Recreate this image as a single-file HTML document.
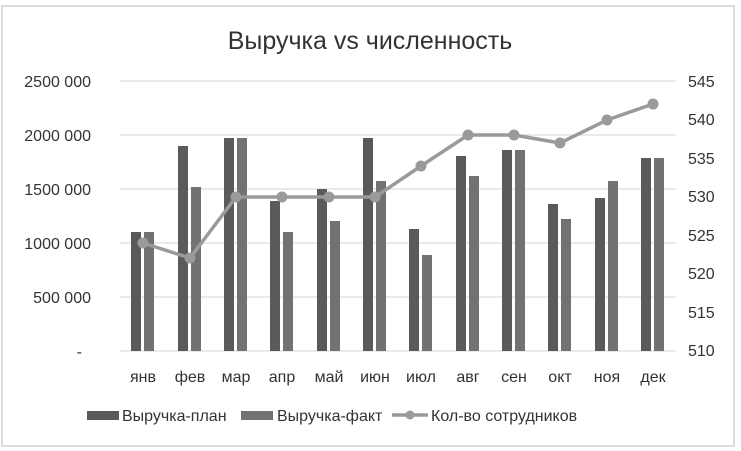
<!DOCTYPE html>
<html><head><meta charset="utf-8"><style>
html,body{margin:0;padding:0;background:#fff;}
svg{display:block;font-family:"Liberation Sans","DejaVu Sans",sans-serif;}
</style></head><body>
<svg width="741" height="451" viewBox="0 0 741 451" xmlns="http://www.w3.org/2000/svg">
<rect x="0" y="0" width="741" height="451" fill="#fff"/>
<rect x="2" y="6" width="732" height="440" fill="none" stroke="#d0d0d0" stroke-width="1.5"/>
<text x="370" y="49" text-anchor="middle" font-size="25" fill="#333">Выручка vs численность</text>
<g stroke="#d4d4d4" stroke-width="1">
<line x1="120" y1="81" x2="676" y2="81"/><line x1="120" y1="135" x2="676" y2="135"/>
<line x1="120" y1="189" x2="676" y2="189"/><line x1="120" y1="243" x2="676" y2="243"/>
<line x1="120" y1="297" x2="676" y2="297"/><line x1="120" y1="351" x2="676" y2="351"/>
</g>
<g font-size="16" fill="#333" text-anchor="end">
<text x="91" y="87">2500 000</text><text x="91" y="141">2000 000</text>
<text x="91" y="195">1500 000</text><text x="91" y="249">1000 000</text>
<text x="91" y="303">500 000</text><text x="82" y="357">-</text>
</g>
<g font-size="16" fill="#333">
<text x="688" y="87">545</text><text x="688" y="125">540</text><text x="688" y="164">535</text>
<text x="688" y="202">530</text><text x="688" y="241">525</text><text x="688" y="279">520</text>
<text x="688" y="318">515</text><text x="688" y="356">510</text>
</g>
<g font-size="16" fill="#333" text-anchor="middle">
<text x="143" y="382">янв</text><text x="190" y="382">фев</text><text x="236" y="382">мар</text>
<text x="282" y="382">апр</text><text x="329" y="382">май</text><text x="375" y="382">июн</text>
<text x="421" y="382">июл</text><text x="468" y="382">авг</text><text x="514" y="382">сен</text>
<text x="560" y="382">окт</text><text x="607" y="382">ноя</text><text x="653" y="382">дек</text>
</g>
<g fill="#5a5a5a">
<rect x="131" y="232" width="10" height="119"/><rect x="178" y="146" width="10" height="205"/>
<rect x="224" y="138" width="10" height="213"/><rect x="270" y="201" width="10" height="150"/>
<rect x="317" y="189" width="10" height="162"/><rect x="363" y="138" width="10" height="213"/>
<rect x="409" y="229" width="10" height="122"/><rect x="456" y="156" width="10" height="195"/>
<rect x="502" y="150" width="10" height="201"/><rect x="548" y="204" width="10" height="147"/>
<rect x="595" y="198" width="10" height="153"/><rect x="641" y="158" width="10" height="193"/>
</g>
<g fill="#727272">
<rect x="144" y="232" width="10" height="119"/><rect x="191" y="187" width="10" height="164"/>
<rect x="237" y="138" width="10" height="213"/><rect x="283" y="232" width="10" height="119"/>
<rect x="330" y="221" width="10" height="130"/><rect x="376" y="181" width="10" height="170"/>
<rect x="422" y="255" width="10" height="96"/><rect x="469" y="176" width="10" height="175"/>
<rect x="515" y="150" width="10" height="201"/><rect x="561" y="219" width="10" height="132"/>
<rect x="608" y="181" width="10" height="170"/><rect x="654" y="158" width="10" height="193"/>
</g>
<polyline fill="none" stroke="#9a9a9a" stroke-width="3.5" stroke-linejoin="round"
points="143,243 190,258 236,197 282,197 329,197 375,197 421,166 468,135 514,135 560,143 607,120 653,104"/>
<g fill="#9a9a9a">
<circle cx="143" cy="243" r="5.5"/><circle cx="190" cy="258" r="5.5"/><circle cx="236" cy="197" r="5.5"/>
<circle cx="282" cy="197" r="5.5"/><circle cx="329" cy="197" r="5.5"/><circle cx="375" cy="197" r="5.5"/>
<circle cx="421" cy="166" r="5.5"/><circle cx="468" cy="135" r="5.5"/><circle cx="514" cy="135" r="5.5"/>
<circle cx="560" cy="143" r="5.5"/><circle cx="607" cy="120" r="5.5"/><circle cx="653" cy="104" r="5.5"/>
</g>
<rect x="87" y="411" width="32" height="9" fill="#5a5a5a"/>
<text x="122" y="421" font-size="16" fill="#333">Выручка-план</text>
<rect x="241" y="411" width="32" height="9" fill="#727272"/>
<text x="277" y="421" font-size="16" fill="#333">Выручка-факт</text>
<line x1="392" y1="415" x2="428" y2="415" stroke="#9a9a9a" stroke-width="3.5"/>
<circle cx="410" cy="415" r="4.5" fill="#9a9a9a"/>
<text x="431" y="421" font-size="16" fill="#333">Кол-во сотрудников</text>
</svg>
</body></html>
